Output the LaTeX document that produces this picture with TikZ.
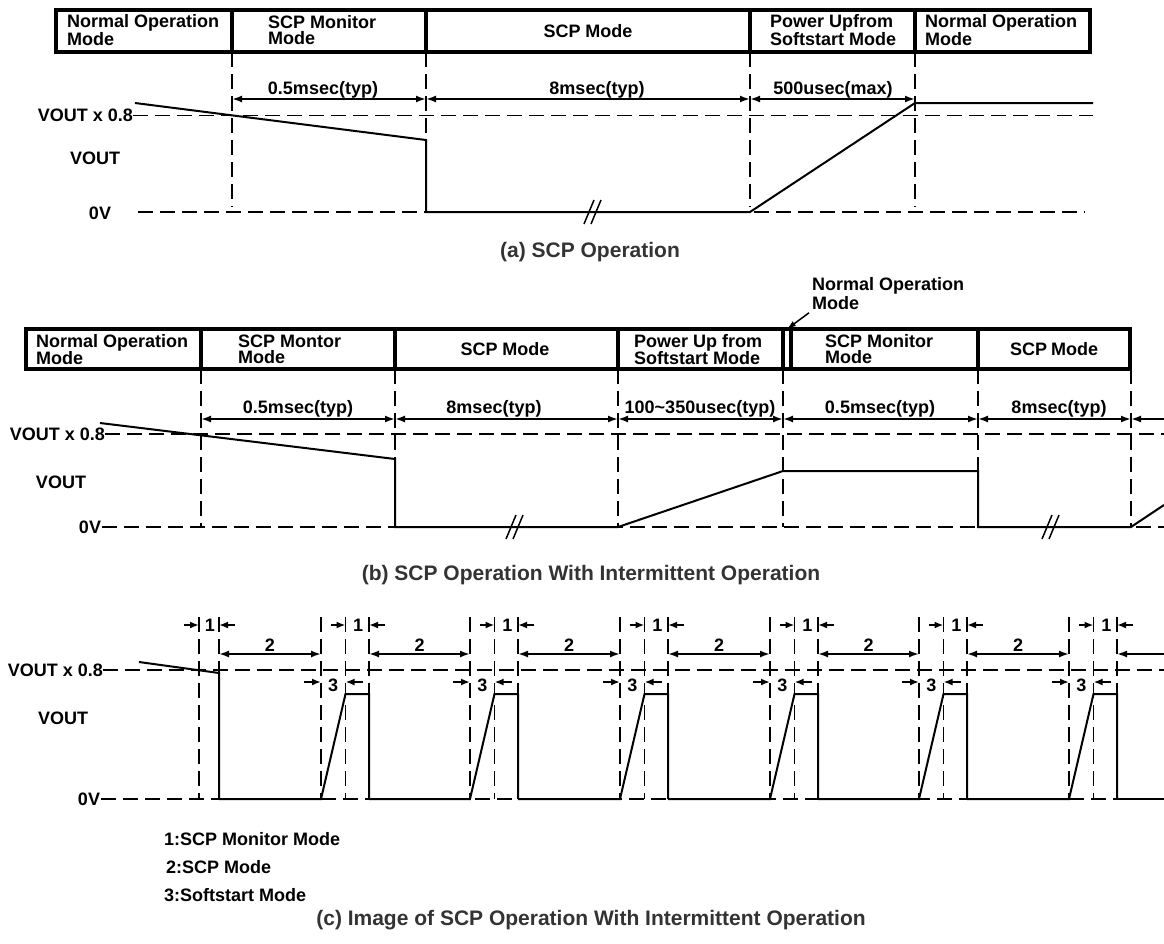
\documentclass[tikz,border=0pt]{standalone}
\usepackage{fontspec}
\setmainfont{Liberation Sans}
\usetikzlibrary{arrows.meta}
\definecolor{titlegray}{gray}{0.2}
\newcommand{\hdrbx}[5]{\node[hbx,minimum width={(#3)-(#2)},minimum height={(#5)-(#4)}] (#1) at ({((#2)+(#3))/2},{((#4)+(#5))/2}) {};}
\newcommand{\brkmark}[3]{\draw[brk] ({#2-8},{#3+12}) -- ({#2+2},{#3-12}); \draw[brk] ({#2-1},{#3+12}) -- ({#2+9},{#3-12});}
\tikzset{
  hbx/.style={draw, line width=3.5pt, inner sep=0pt, outer sep=0pt},
  htx/.style={font=\fontsize{18}{16}\selectfont\bfseries, align=left, inner sep=0pt, anchor=west},
  ctx/.style={font=\fontsize{18}{16}\selectfont\bfseries, inner sep=0pt},
  lbl/.style={font=\fontsize{18}{18}\selectfont\bfseries, inner sep=0pt, anchor=base},
  ttl/.style={font=\fontsize{21}{21}\selectfont\bfseries, text=titlegray, inner sep=0pt},
  dsh/.style={line width=1.8pt, dash pattern=on 15pt off 7pt},
  wav/.style={line width=2pt, line join=miter},
  brk/.style={line width=1.5pt},
  dimarr/.style={line width=1.8pt, {Latex[length=10pt,width=7pt]}-{Latex[length=10pt,width=7pt]}},
  inarr/.style={line width=1.8pt, -{Latex[length=9pt,width=7pt]}},
}
\begin{document}
\begin{tikzpicture}[x=1pt,y=-1pt]
\useasboundingbox (0,0) rectangle (1164,943);
%================ (a) =================
\hdrbx{a1}{56}{232}{10}{52}
\hdrbx{a2}{232}{426}{10}{52}
\hdrbx{a3}{426}{750}{10}{52}
\hdrbx{a4}{750}{915}{10}{52}
\hdrbx{a5}{915}{1090}{10}{52}
\node[htx] (a1t) at (67,30) {Normal Operation\\Mode};
\node[htx] (a2t) at (268,30) {SCP Monitor\\Mode};
\node[ctx] (a3t) at (588,31) {SCP Mode};
\node[htx] (a4t) at (770,30) {Power Upfrom\\Softstart Mode};
\node[htx] (a5t) at (925,30) {Normal Operation\\Mode};
% verticals
\draw[dsh] (232,52) -- (232,207);
\draw[dsh] (426,52) -- (426,140);
\draw[dsh] (750,52) -- (750,207);
\draw[dsh] (915,52) -- (915,207);
% reference lines
\draw[dsh] (133,115.5) -- (1093,115.5);
\draw[dsh] (138,212) -- (1085,212);
% dimensions
\draw[dimarr] (232,99) -- (426,99);
\draw[dimarr] (426,99) -- (750,99);
\draw[dimarr] (750,99) -- (915,99);
\node[lbl] (ad1) at (323,94) {0.5msec(typ)};
\node[lbl] (ad2) at (597,94) {8msec(typ)};
\node[lbl] (ad3) at (833,94) {500usec(max)};
% waveform
\draw[wav] (135,103) -- (426,140) -- (426,212) -- (750,212) -- (915,103) -- (1093,103);
\brkmark{a}{592}{212}
% labels
\node[ctx, anchor=east] (av8) at (133,115.5) {VOUT x 0.8};
\node[ctx] (avo) at (95,158) {VOUT};
\node[ctx] (a0v) at (100,213) {0V};
\node[ttl] (atl) at (590,252) {(a) SCP Operation};
%================ (b) =================
\hdrbx{b1}{26}{201}{329}{369}
\hdrbx{b2}{201}{395}{329}{369}
\hdrbx{b3}{395}{618}{329}{369}
\hdrbx{b4}{618}{783}{329}{369}
\hdrbx{b5}{783}{791}{329}{369}
\hdrbx{b6}{791}{978}{329}{369}
\hdrbx{b7}{978}{1130}{329}{369}
\node[htx] (b1t) at (36,349.5) {Normal Operation\\Mode};
\node[htx] (b2t) at (238,349.5) {SCP Montor\\Mode};
\node[ctx] (b3t) at (505,349.5) {SCP Mode};
\node[htx] (b4t) at (634,349.5) {Power Up from\\Softstart Mode};
\node[htx] (b6t) at (825,349.5) {SCP Monitor\\Mode};
\node[ctx] (b7t) at (1054,349.5) {SCP\kern-1pt\ Mode};
\node[htx, font=\fontsize{18}{19}\selectfont\bfseries] (bnom) at (812,293.5) {Normal Operation\\Mode};
\draw[line width=1.5pt, -{Latex[length=9pt,width=6pt]}] (bnom.south west) ++(-3,3) -- (b5.north);
% verticals
\draw[dsh] (201,369) -- (201,527);
\draw[dsh] (395,369) -- (395,459);
\draw[dsh] (618,369) -- (618,527);
\draw[dsh] (783,369) -- (783,527);
\draw[dsh] (978,369) -- (978,471);
\draw[dsh] (1131,369) -- (1131,527);
% reference lines
\draw[dsh] (105,434) -- (1164,434);
\draw[dsh] (102,527) -- (1164,527);
% dimensions
\draw[dimarr] (201,419) -- (395,419);
\draw[dimarr] (395,419) -- (618,419);
\draw[dimarr] (618,419) -- (783,419);
\draw[dimarr] (783,419) -- (978,419);
\draw[dimarr] (978,419) -- (1131,419);
\draw[line width=1.8pt, {Latex[length=10pt,width=7pt]}-] (1131,419) -- (1164,419);
\node[lbl] (bd1) at (298,413) {0.5msec(typ)};
\node[lbl] (bd2) at (494,413) {8msec(typ)};
\node[lbl] (bd3) at (700,413) {100\textasciitilde350usec(typ)};
\node[lbl] (bd4) at (880,413) {0.5msec(typ)};
\node[lbl] (bd5) at (1059,413) {8msec(typ)};
% waveform
\draw[wav] (100,423) -- (395,459) -- (395,527) -- (618,527) -- (783,471) -- (978,471) -- (978,527) -- (1131,527) -- (1164,505);
\brkmark{b}{514}{527}
\brkmark{b}{1050}{527}
% labels
\node[ctx, anchor=east] (bv8) at (105,434) {VOUT x 0.8};
\node[ctx] (bvo) at (61,482) {VOUT};
\node[ctx] (b0v) at (90,527) {0V};
\node[ttl] (btl) at (591,575) {(b) SCP Operation With Intermittent Operation};
%================ (c) =================
\draw[dsh] (103,670) -- (1164,670);
\draw[dsh] (101,799) -- (1164,799);
% precursor cycle
\draw[dsh] (199,617) -- (199,799);
\draw[dsh] (219,617) -- (219,673);
\draw[wav] (139,662) -- (219,673) -- (219,799);
\draw[inarr] (184,625) -- (199,625);
\draw[inarr] (235,625) -- (219,625);
\node[lbl] (c1p) at (210,631) {1};
\foreach \rs/\pd in {321/219, 470/369, 620/518, 770/668, 919/818, 1069/967} {
  \pgfmathsetmacro{\rtop}{\rs+24.5}
  \pgfmathsetmacro{\rdrop}{\rs+48}
  \draw[dsh] (\rs,617) -- (\rs,799);
  \draw[dsh] (\rtop,617) -- (\rtop,799);
  \draw[dsh] (\rdrop,617) -- (\rdrop,694);
  \draw[wav] (\pd,799) -- (\rs,799) -- (\rtop,694) -- (\rdrop,694) -- (\rdrop,799);
  \draw[inarr] ({\rs-17},682) -- (\rs,682);
  \draw[inarr] ({\rtop+17},682) -- (\rtop,682);
  \node[lbl] (c3-\rs) at ({(\rs+\rtop)/2},691) {3};
  \draw[inarr] ({\rtop-15},625) -- (\rtop,625);
  \draw[inarr] ({\rdrop+16},625) -- (\rdrop,625);
  \node[lbl] (c1-\rs) at ({(\rtop+\rdrop)/2+1},631) {1};
  \draw[dimarr] (\pd,654) -- (\rs,654);
  \node[lbl] (c2-\rs) at ({(\pd+\rs)/2},651) {2};
}
\draw[wav] (1117,799) -- (1164,799);
\draw[line width=1.8pt, {Latex[length=10pt,width=7pt]}-] (1117,654) -- (1164,654);
% labels
\node[ctx, anchor=east] (cv8) at (103,670) {VOUT x 0.8};
\node[ctx] (cvo) at (63,718) {VOUT};
\node[ctx] (c0v) at (89,799) {0V};
\node[htx] (cl1) at (164,839) {1:SCP Monitor Mode};
\node[htx] (cl2) at (166,867) {2:SCP Mode};
\node[htx] (cl3) at (164,895) {3:Softstart Mode};
\node[ttl] (ctl) at (591,920) {(c) Image of SCP Operation With Intermittent Operation};
\end{tikzpicture}
\end{document}
